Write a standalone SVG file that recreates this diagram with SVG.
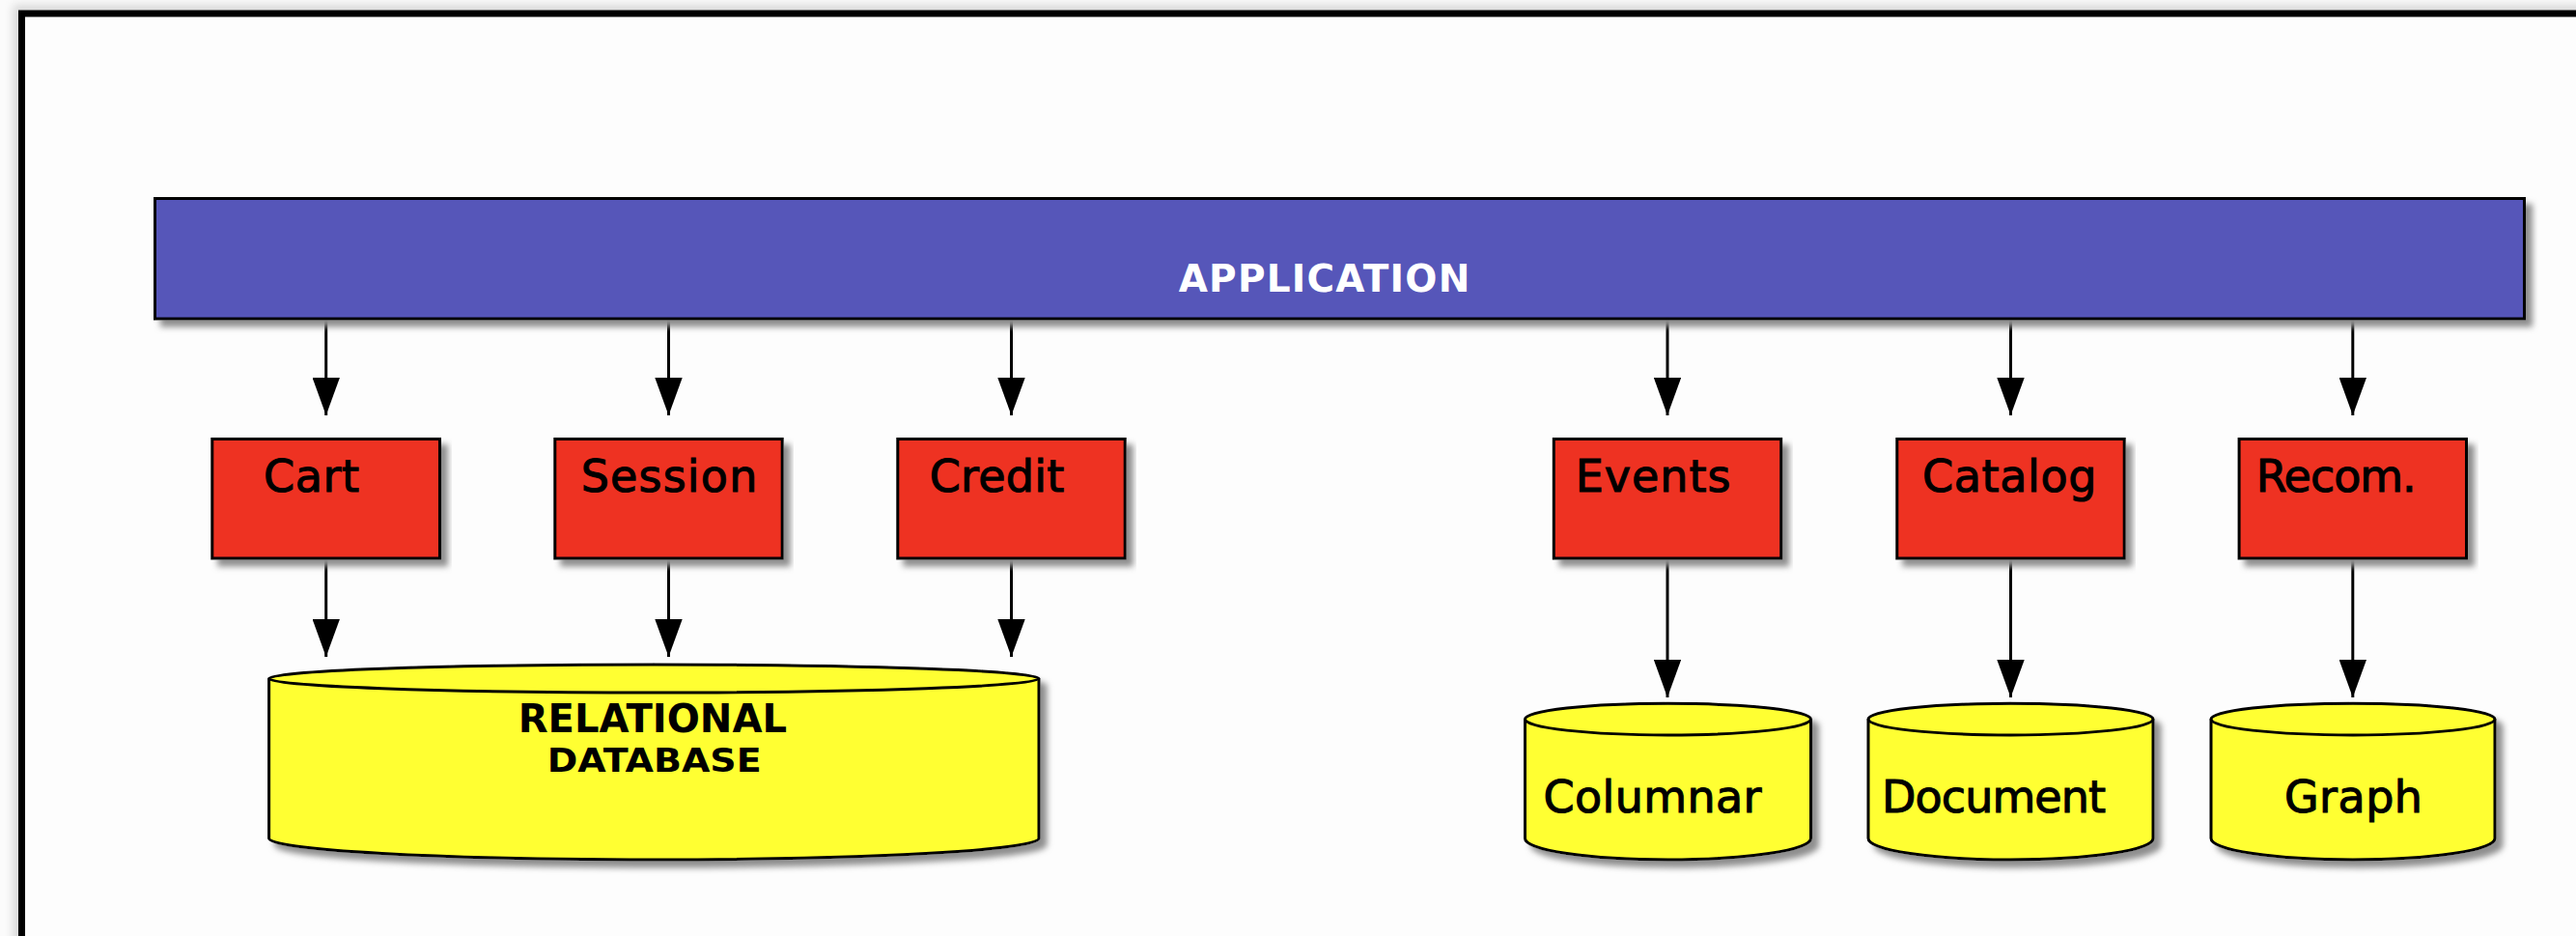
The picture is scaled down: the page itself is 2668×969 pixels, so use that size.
<svg xmlns="http://www.w3.org/2000/svg" width="2668" height="969" viewBox="0 0 2668 969">
  <defs>
    <style>
      .lbl { font-family: "DejaVu Sans", "Liberation Sans", sans-serif; font-size: 46px; fill: #000; stroke: #000; stroke-width: 1.1px; }
      .app-lbl { font-family: "DejaVu Sans", "Liberation Sans", sans-serif; font-size: 39px; font-weight: bold; fill: #fff; }
      .db-lbl { font-family: "DejaVu Sans", "Liberation Sans", sans-serif; font-weight: bold; fill: #000; }
      .app { fill: #5656b9; stroke: #000; stroke-width: 3; }
      .box { fill: #ee3224; stroke: #000; stroke-width: 3; }
      .db { fill: #ffff33; stroke: #000; stroke-width: 3; stroke-linejoin: round; }
      .rim { fill: none; stroke: #000; stroke-width: 3; }
      .edge { fill: none; stroke: #000; stroke-width: 3; marker-end: url(#head); }
    </style>
    <filter id="drop" x="-3%" y="-20%" width="108%" height="150%">
      <feGaussianBlur in="SourceAlpha" stdDeviation="3"/>
      <feOffset dx="7" dy="7" result="b"/>
      <feFlood flood-color="#8e8e8e"/>
      <feComposite in2="b" operator="in"/>
      <feMerge>
        <feMergeNode/>
        <feMergeNode in="SourceGraphic"/>
      </feMerge>
    </filter>
    <filter id="frameShade" x="-5%" y="-5%" width="110%" height="110%">
      <feGaussianBlur stdDeviation="5"/>
    </filter>
    <!-- arrowhead drawn along +x so orient="auto" turns it with the line -->
    <marker id="head" markerWidth="39" markerHeight="28.4" refX="39" refY="14.2" orient="auto" markerUnits="userSpaceOnUse" viewBox="0 0 39 28.4">
      <path d="M0,0 L39,14.2 L0,28.4 Z" fill="#000"/>
    </marker>
  </defs>

  <!-- page and frame -->
  <rect x="0" y="0" width="2668" height="969" fill="#fbfbfb"/>
  <rect x="22.5" y="14" width="2760" height="1100" fill="none" stroke="#d8d8d8" stroke-width="18" filter="url(#frameShade)"/>
  <rect x="22.5" y="14" width="2760" height="1100" fill="#fdfdfd" stroke="#000" stroke-width="7"/>

  <!-- connectors -->
  <g id="connectors">
    <line class="edge" x1="337.7" y1="331" x2="337.7" y2="430"/>
    <line class="edge" x1="692.5" y1="331" x2="692.5" y2="430"/>
    <line class="edge" x1="1047.5" y1="331" x2="1047.5" y2="430"/>
    <line class="edge" x1="1727" y1="331" x2="1727" y2="430"/>
    <line class="edge" x1="2082.5" y1="331" x2="2082.5" y2="430"/>
    <line class="edge" x1="2436.8" y1="331" x2="2436.8" y2="430"/>

    <line class="edge" x1="337.7" y1="579" x2="337.7" y2="680"/>
    <line class="edge" x1="692.5" y1="579" x2="692.5" y2="680"/>
    <line class="edge" x1="1047.5" y1="579" x2="1047.5" y2="680"/>
    <line class="edge" x1="1727" y1="579" x2="1727" y2="722"/>
    <line class="edge" x1="2082.5" y1="579" x2="2082.5" y2="722"/>
    <line class="edge" x1="2436.8" y1="579" x2="2436.8" y2="722"/>
  </g>

  <!-- application layer -->
  <g id="application">
    <rect class="app" x="160.5" y="205.5" width="2454" height="124.5" filter="url(#drop)"/>
    <text class="app-lbl" x="1220.7" y="301.7" textLength="301.6" lengthAdjust="spacing">APPLICATION</text>
  </g>

  <!-- services -->
  <g id="cart">
    <rect class="box" x="219.8" y="454.5" width="235.7" height="123.5" filter="url(#drop)"/>
    <text class="lbl" x="273" y="509.3" textLength="99" lengthAdjust="spacing">Cart</text>
  </g>
  <g id="session">
    <rect class="box" x="574.8" y="454.5" width="235.4" height="123.5" filter="url(#drop)"/>
    <text class="lbl" x="601.7" y="509.3" textLength="182.6" lengthAdjust="spacing">Session</text>
  </g>
  <g id="credit">
    <rect class="box" x="929.8" y="454.5" width="235.4" height="123.5" filter="url(#drop)"/>
    <text class="lbl" x="962.7" y="509.3" textLength="139.6" lengthAdjust="spacing">Credit</text>
  </g>
  <g id="events">
    <rect class="box" x="1609.3" y="454.5" width="235.4" height="123.5" filter="url(#drop)"/>
    <text class="lbl" x="1631.7" y="509.3" textLength="160.7" lengthAdjust="spacing">Events</text>
  </g>
  <g id="catalog">
    <rect class="box" x="1964.8" y="454.5" width="235.4" height="123.5" filter="url(#drop)"/>
    <text class="lbl" x="1991" y="509.3" textLength="180.4" lengthAdjust="spacing">Catalog</text>
  </g>
  <g id="recom">
    <rect class="box" x="2319.1" y="454.5" width="235.4" height="123.5" filter="url(#drop)"/>
    <text class="lbl" x="2336.7" y="509.3" textLength="166" lengthAdjust="spacing">Recom.</text>
  </g>

  <!-- data stores -->
  <g id="relational">
    <path class="db" filter="url(#drop)" d="M278.6,702.5 V868 A398.7,22 0 0 0 1076,868 V702.5 A398.7,14.5 0 0 0 278.6,702.5 Z"/>
    <path class="rim" d="M278.6,702.5 A398.7,14.5 0 0 0 1076,702.5"/>
    <text class="db-lbl" x="536.7" y="758.3" font-size="41" textLength="278.3" lengthAdjust="spacingAndGlyphs">RELATIONAL</text>
    <text class="db-lbl" x="566.7" y="799" font-size="33" textLength="222" lengthAdjust="spacingAndGlyphs">DATABASE</text>
  </g>
  <g id="columnar">
    <path class="db" filter="url(#drop)" d="M1579.5,744.6 V868 A148,22 0 0 0 1875.5,868 V744.6 A148,16.3 0 0 0 1579.5,744.6 Z"/>
    <path class="rim" d="M1579.5,744.6 A148,16.3 0 0 0 1875.5,744.6"/>
    <text class="lbl" x="1598.5" y="841" textLength="226" lengthAdjust="spacing">Columnar</text>
  </g>
  <g id="document">
    <path class="db" filter="url(#drop)" d="M1935,744.6 V868 A147.5,22 0 0 0 2230,868 V744.6 A147.5,16.3 0 0 0 1935,744.6 Z"/>
    <path class="rim" d="M1935,744.6 A147.5,16.3 0 0 0 2230,744.6"/>
    <text class="lbl" x="1949" y="841" textLength="232" lengthAdjust="spacing">Document</text>
  </g>
  <g id="graph">
    <path class="db" filter="url(#drop)" d="M2290,744.6 V868 A147,22 0 0 0 2584,868 V744.6 A147,16.3 0 0 0 2290,744.6 Z"/>
    <path class="rim" d="M2290,744.6 A147,16.3 0 0 0 2584,744.6"/>
    <text class="lbl" x="2366" y="841" textLength="143" lengthAdjust="spacing">Graph</text>
  </g>
</svg>
